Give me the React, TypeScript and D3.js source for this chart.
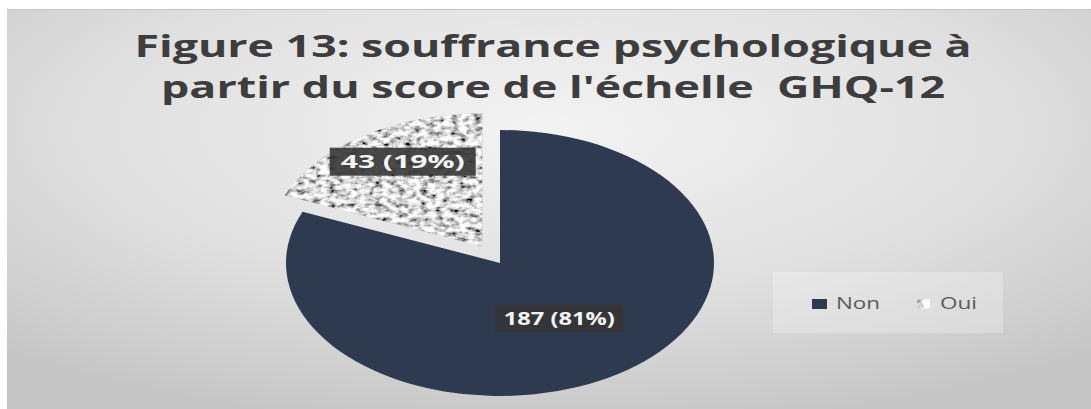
import React from "react";
import * as d3 from "d3";

const categories = ["Non", "Oui"];
const counts = [187, 43];
const titleLines = [
  "Figure 13: souffrance psychologique à",
  "partir du score de l'échelle\u00A0\u00A0GHQ-12",
];

const W = 1091;
const H = 409;

export default function App() {
  const total = d3.sum(counts);
  const data = categories.map((c, i) => ({ name: c, value: counts[i] }));
  const pie = d3.pie<{ name: string; value: number }>().sort(null).value((d) => d.value);
  const arcs = pie(data);
  const R = 214;
  const sy = 133 / 214;
  const cx = 500;
  const cy = 263;
  const arc = d3.arc<any>().innerRadius(0).outerRadius(R);
  const explode = [0, 32];
  const labelR = [107, 158];

  const labels = arcs.map((a, i) => {
    const mid = (a.startAngle + a.endAngle) / 2;
    const ex = explode[i];
    const r = labelR[i] + ex;
    const dx = Math.sin(mid) * r;
    const dy = -Math.cos(mid) * r * sy;
    const pct = Math.round((a.data.value / total) * 100);
    return { x: cx + dx + (i === 1 ? 8 : 0), y: cy + dy - (i === 1 ? 3 : 0), text: `${a.data.value} (${pct}%)` };
  });
  const labelW = [128, 146];
  const textLen = [111, 124];

  return (
    <svg width={W} height={H} style={{ position: "absolute", left: 0, top: 0 }}>
      <defs>
        <radialGradient id="bg" cx="0.5" cy="0.3" r="0.75" gradientUnits="objectBoundingBox">
          <stop offset="0" stopColor="#f3f3f3" />
          <stop offset="0.55" stopColor="#e0e0e0" />
          <stop offset="1" stopColor="#c6c6c6" />
        </radialGradient>
        <filter id="speckle" x="0" y="0" width="1" height="1" filterUnits="objectBoundingBox">
          <feTurbulence type="fractalNoise" baseFrequency="0.13" numOctaves="3" seed="5" result="n" />
          <feColorMatrix
            in="n"
            type="matrix"
            values="2.2 0 0 0 -0.4  2.2 0 0 0 -0.4  2.2 0 0 0 -0.4  0 0 0 0 1"
            result="g"
          />
          <feGaussianBlur in="g" stdDeviation="0.7" result="b" />
          <feComposite in="b" in2="SourceGraphic" operator="in" />
        </filter>
      </defs>
      <rect x={0} y={0} width={W} height={H} fill="#ffffff" />
      <rect x={7} y={9} width={W - 7} height={H - 9} fill="url(#bg)" />
      <line x1={7} x2={W} y1={9.5} y2={9.5} stroke="#c4c4c4" strokeWidth={1} />

      {titleLines.map((t, i) => (
        <text
          key={i}
          x={553}
          y={57 + i * 41}
          textAnchor="middle"
          fontFamily="'Open Sans', sans-serif"
          fontWeight={700}
          fontSize={30}
          fill="#3d3d3d"
          textLength={i === 0 ? 837 : 784}
          lengthAdjust="spacingAndGlyphs"
        >
          {t}
        </text>
      ))}

      {arcs.map((a, i) => {
        const mid = (a.startAngle + a.endAngle) / 2;
        const ox = Math.sin(mid) * explode[i];
        const oy = -Math.cos(mid) * explode[i];
        return (
          <g key={i} transform={`translate(${cx},${cy}) scale(1,${sy}) translate(${ox},${oy})`}>
            {i === 0 ? (
              <path d={arc(a) as string} fill="#2e3a50" />
            ) : (
              <>
                <path d={arc(a) as string} fill="#b5b5b5" />
                <path d={arc(a) as string} fill="#000" filter="url(#speckle)" />
              </>
            )}
          </g>
        );
      })}

      {labels.map((l, i) => (
        <g key={i}>
          <rect
            x={l.x - labelW[i] / 2}
            y={l.y - 14}
            width={labelW[i]}
            height={28}
            fill="#353535"
            fillOpacity={0.9}
          />
          <text
            x={l.x}
            y={l.y + 6.5}
            textAnchor="middle"
            fontFamily="'Open Sans', sans-serif"
            fontWeight={700}
            fontSize={18}
            fill="#f4f4f4"
            textLength={textLen[i]}
            lengthAdjust="spacingAndGlyphs"
          >
            {l.text}
          </text>
        </g>
      ))}

      <rect x={773} y={272} width={230} height={61} fill="#ffffff" fillOpacity={0.25} />
      <rect x={812} y={299} width={15} height={10} fill="#2e3a50" />
      <text x={836} y={309} fontFamily="'Open Sans', sans-serif" fontSize={16} fill="#5a5a5a" textLength={44} lengthAdjust="spacingAndGlyphs">
        {categories[0]}
      </text>
      <rect x={917} y={299} width={13} height={10} fill="#b5b5b5" />
      <rect x={917} y={299} width={13} height={10} fill="#000" filter="url(#speckle)" />
      <text x={940} y={309} fontFamily="'Open Sans', sans-serif" fontSize={16} fill="#5a5a5a" textLength={37} lengthAdjust="spacingAndGlyphs">
        {categories[1]}
      </text>
    </svg>
  );
}
